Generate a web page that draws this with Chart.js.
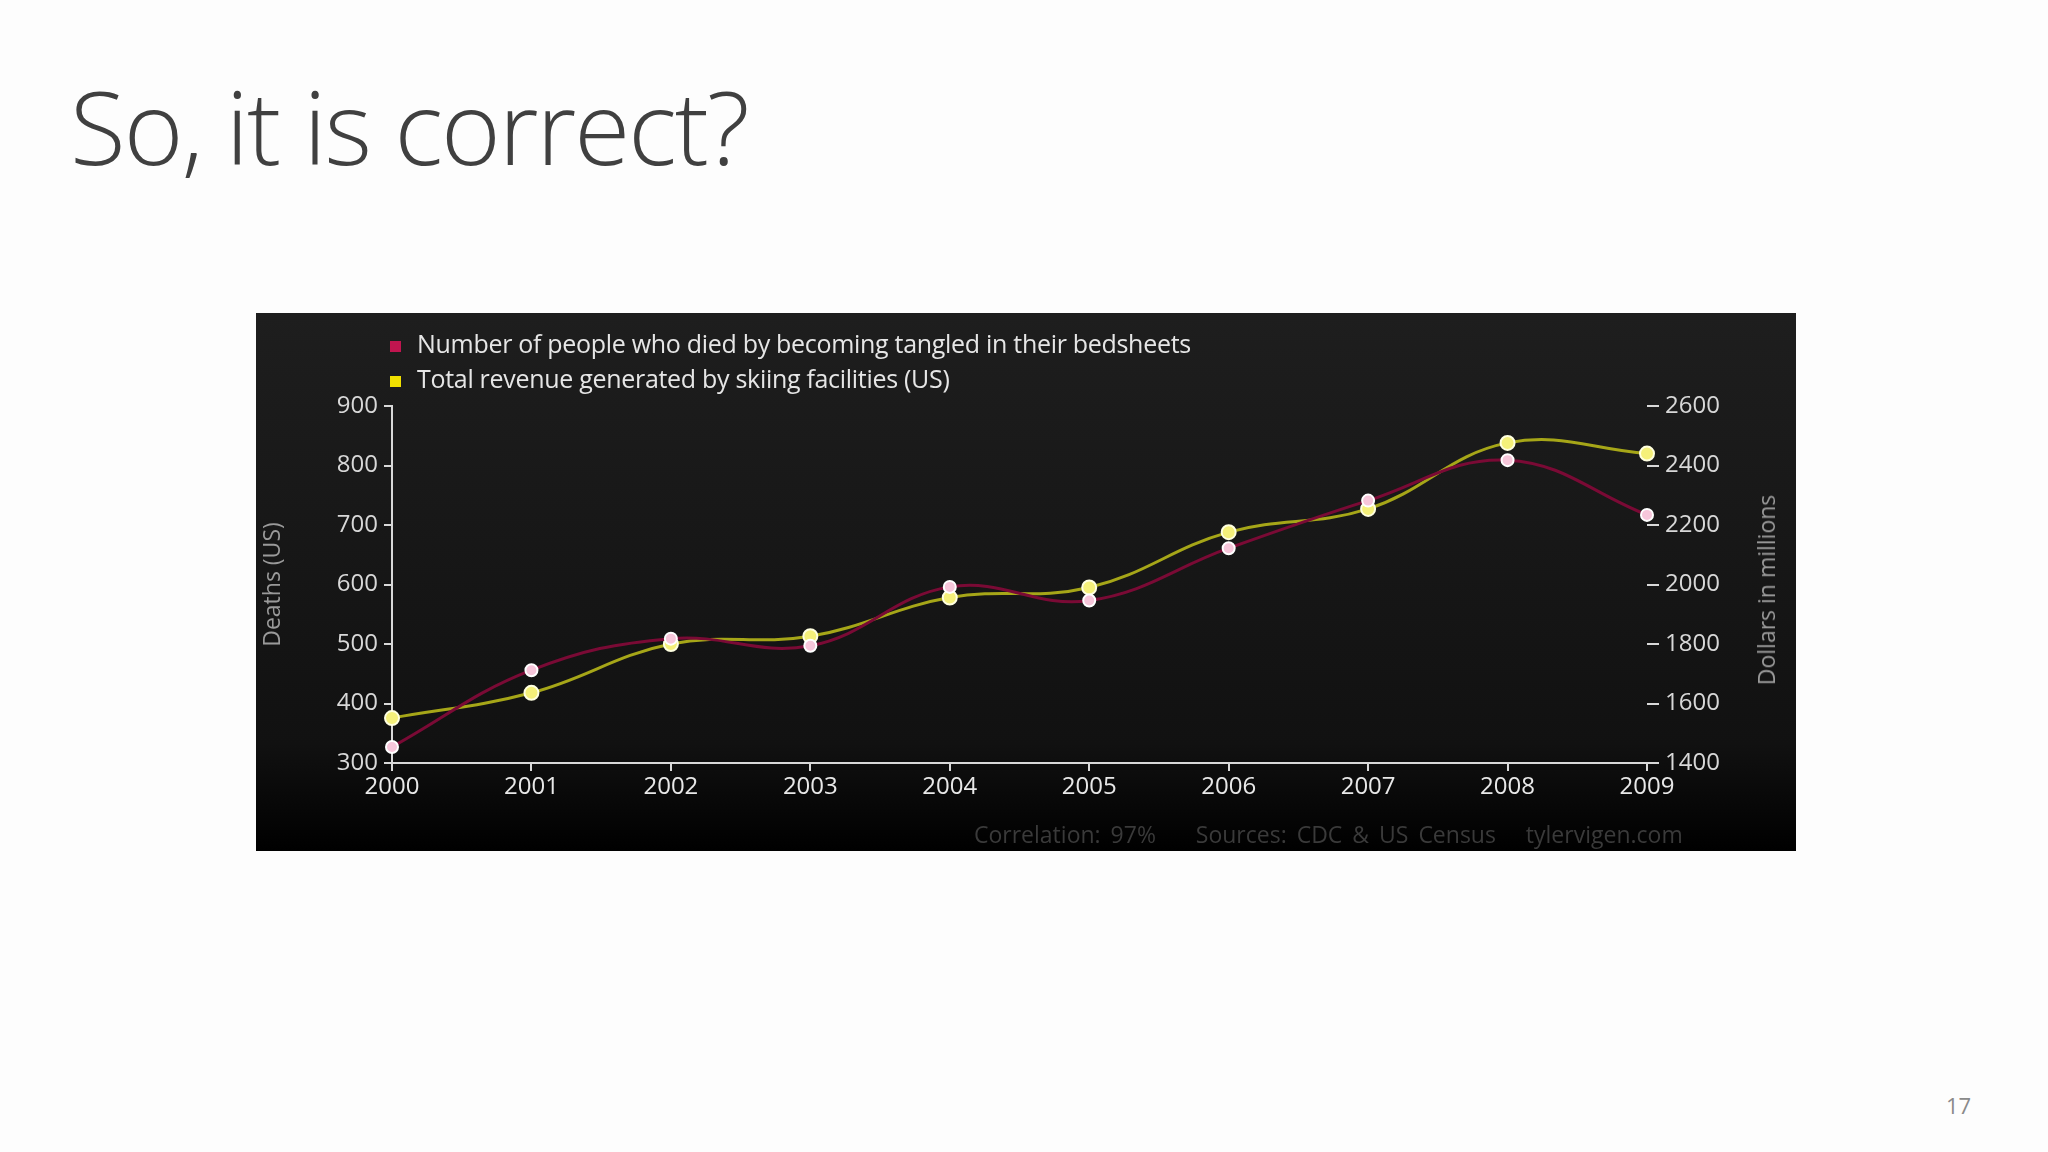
<!DOCTYPE html>
<html><head><meta charset="utf-8">
<script src="https://cdn.jsdelivr.net/npm/chart.js@4/dist/chart.umd.min.js"></script>
<style>
body{margin:0;width:2048px;height:1152px;background:#fdfdfd;position:relative;overflow:hidden;font-family:"Open Sans",sans-serif}
#title{position:absolute;left:70px;top:56px;font-size:102px;font-weight:300;color:#404040;letter-spacing:-2px}
#panel{position:absolute;left:256px;top:313px;width:1540px;height:538px}
.leg{position:absolute;left:390px;font-size:25px;color:#e6e6e6;font-family:"Open Sans",sans-serif;letter-spacing:-0.3px}
.leg span{display:inline-block;width:11px;height:11px;margin-right:16px;vertical-align:middle}
#foot{position:absolute;left:974px;top:818px;font-size:23px;color:#3a3a3a;font-family:"Open Sans",sans-serif;word-spacing:4px}
#pg{position:absolute;left:1946px;top:1090px;font-size:22px;color:#8a8a8a}
#rt{position:absolute;left:1766px;top:590px;transform:translate(-50%,-50%) rotate(-90deg);font-size:23px;color:#9a9a9a;font-family:"Open Sans",sans-serif;white-space:nowrap}
</style></head><body>
<div id="title">So, it is correct?</div>
<div id="panel"><canvas id="c" width="1540" height="538"></canvas></div>
<div class="leg" style="top:326px"><span style="background:#c0154f"></span>Number of people who died by becoming tangled in their bedsheets</div>
<div class="leg" style="top:361px"><span style="background:#f0e000"></span>Total revenue generated by skiing facilities (US)</div>
<div id="foot">Correlation: 97%&nbsp;&nbsp;&nbsp; Sources: CDC &amp; US Census&nbsp;&nbsp; tylervigen.com</div>
<div id="rt">Dollars in millions</div>
<div id="pg">17</div>
<script>
const years=["2000","2001","2002","2003","2004","2005","2006","2007","2008","2009"];
const deaths=[327,456,509,497,596,573,661,741,809,717];
const revenue=[1551,1636,1800,1826,1956,1990,2176,2254,2476,2440];
const leftTicks=[300,400,500,600,700,800,900];
const rightTicks=[1400,1600,1800,2000,2200,2400,2600];
const tickFont={family:"Open Sans",size:24};
const bg={id:'bg',beforeDraw(ch){const c=ch.ctx;const g=c.createLinearGradient(0,0,0,ch.height);g.addColorStop(0,'#1e1e1e');g.addColorStop(0.8,'#111');g.addColorStop(1,'#000');c.save();c.fillStyle=g;c.fillRect(0,0,ch.width,ch.height);c.restore();}};
const gridT={display:true,drawOnChartArea:false,color:'transparent',tickColor:'#d8d8d8',tickLength:8,lineWidth:2};
new Chart(document.getElementById('c'),{type:'line',
data:{labels:years,datasets:[
{label:'deaths',data:deaths,yAxisID:'y',borderColor:'#7a0a35',borderWidth:3,tension:0.4,pointRadius:6,pointBackgroundColor:'#f7c6da',pointBorderColor:'#ffffff',pointBorderWidth:2},
{label:'revenue',data:revenue,yAxisID:'y1',borderColor:'#a6a618',borderWidth:3,tension:0.4,pointRadius:7,pointBackgroundColor:'#f5f07a',pointBorderColor:'#ffffe0',pointBorderWidth:2}]},
plugins:[bg],
options:{responsive:false,animation:false,layout:{padding:{top:93,left:0,right:0,bottom:0}},
plugins:{legend:{display:false},tooltip:{enabled:false}},
scales:{
x:{offset:false,grid:gridT,border:{color:'#d8d8d8',width:2},ticks:{color:'#e8e8e8',font:tickFont,maxRotation:0,padding:2},afterFit(s){s.height=88;}},
y:{position:'left',min:300,max:900,afterBuildTicks(s){s.ticks=leftTicks.map(v=>({value:v}));},grid:gridT,border:{color:'#d8d8d8',width:2},ticks:{color:'#d8d8d8',font:tickFont,padding:6},title:{display:true,text:'Deaths (US)',color:'#9a9a9a',font:{family:'Open Sans',size:23}},afterFit(s){s.width=136;}},
y1:{position:'right',min:1400,max:2600,afterBuildTicks(s){s.ticks=rightTicks.map(v=>({value:v}));},grid:{display:true,drawOnChartArea:false,color:'transparent',tickColor:'#d8d8d8',tickLength:12,lineWidth:2},border:{display:false},ticks:{color:'#d8d8d8',font:tickFont,padding:6,callback:v=>String(v)},afterFit(s){s.width=149;}}
}}});
</script></body></html>
